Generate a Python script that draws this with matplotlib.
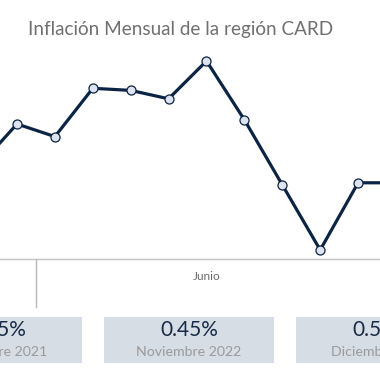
import matplotlib
matplotlib.use("Agg")
import matplotlib.pyplot as plt
from matplotlib.patches import Rectangle

plt.rcParams['font.family'] = ['Lato', 'DejaVu Sans']

# Data (monthly inflation, %)
month_idx = [0, 1, 2, 3, 4, 5, 6, 7, 8, 9, 10, 11]
inflation = [0.60, 0.80, 0.74, 0.97, 0.96, 0.92, 1.10, 0.82, 0.51, 0.20, 0.52, 0.52]
tick_pos = [6]
tick_labels = ["Junio"]
year_break = [1.5]

kpi_values = ["0.65%", "0.45%", "0.52%"]
kpi_labels = ["Diciembre 2021", "Noviembre 2022", "Diciembre 2022"]

W = H = 380
fig = plt.figure(figsize=(3.8, 3.8), dpi=100)
fig.patch.set_facecolor("white")

# axes placement (pixels)
x0_px, x11_px = -20.9, 396.0
ylo, yhi = 0.157, 1.15
ybot_px, ytop_px = 259.0, 50.5
ax = fig.add_axes([x0_px / W, 1 - ybot_px / H, (x11_px - x0_px) / W, (ybot_px - ytop_px) / H])
ax.set_xlim(0, 11)
ax.set_ylim(ylo, yhi)
ax.set_facecolor("none")
for s in ["top", "right", "left"]:
    ax.spines[s].set_visible(False)
ax.spines["bottom"].set_color("#c4c4c4")
ax.spines["bottom"].set_linewidth(1.0)
ax.set_yticks([])
ax.set_xticks(tick_pos)
ax.set_xticklabels(tick_labels, fontsize=8.5, color="#6b6b6b")
ax.tick_params(axis="x", length=0, pad=9)

ax_h_px = ybot_px - ytop_px
for xb in year_break:
    ax.axvline(xb, ymin=-48 / ax_h_px, ymax=0, color="#b8b8b8", lw=1.0, clip_on=False)

ax.plot(month_idx, inflation, color="#0c2444", lw=2.3, marker="o", markersize=6.5,
        markerfacecolor="#dde4ef", markeredgecolor="#0c2444", markeredgewidth=0.9,
        clip_on=False, solid_joinstyle="round", zorder=3)

# title
fig.text(180.5 / W, 1 - 29 / H, "Inflación Mensual de la región CARD", ha="center", va="center",
         fontsize=13.6, color="#707070")

# KPI cards
centers = [-3, 189, 381]
bw, by0, by1 = 170, 317, 363
for c, v, l in zip(centers, kpi_values, kpi_labels):
    fig.patches.append(Rectangle(((c - bw / 2) / W, 1 - by1 / H), bw / W, (by1 - by0) / H,
                                 transform=fig.transFigure, facecolor="#d7dde5", edgecolor="none"))
    fig.text(c / W, 1 - 330.5 / H, v, ha="center", va="center", fontsize=15, color="#172a47")
    fig.text(c / W, 1 - 352.5 / H, l, ha="center", va="center", fontsize=10.2, color="#9a9a9a")

fig.savefig("out.png", dpi=100)
